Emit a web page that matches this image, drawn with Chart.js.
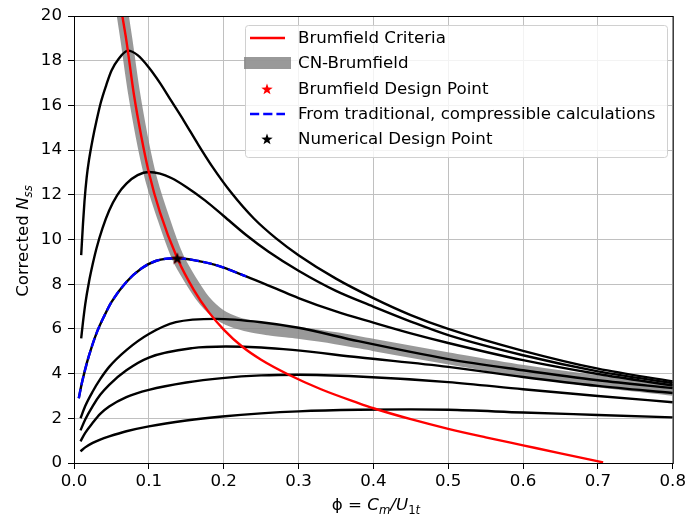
<!DOCTYPE html>
<html>
<head>
<meta charset="utf-8">
<script src="https://cdn.jsdelivr.net/npm/chart.js@4.4.0/dist/chart.umd.min.js"></script>
<style>
body { margin: 0; background: #fff; }
</style>
</head>
<body>
<canvas id="grafico" width="689" height="523"></canvas>
<script>
// curvas Nss x phi
const phiC1 = [0.0096, 0.012, 0.014, 0.017, 0.02, 0.025, 0.03, 0.036, 0.043, 0.05, 0.06, 0.072, 0.085, 0.1, 0.115, 0.13, 0.147, 0.165, 0.185, 0.21, 0.24, 0.27, 0.3, 0.35, 0.4, 0.45, 0.5, 0.6, 0.7, 0.8];
const nssC1 = [9.3, 10.7, 11.7, 12.8, 13.55, 14.5, 15.3, 16.15, 16.9, 17.55, 18.1, 18.45, 18.25, 17.7, 17.0, 16.2, 15.3, 14.3, 13.25, 12.1, 10.95, 10.05, 9.3, 8.25, 7.38, 6.62, 6.0, 5.02, 4.22, 3.65];

const phiC2 = [0.0096, 0.012, 0.015, 0.02, 0.025, 0.03, 0.038, 0.047, 0.058, 0.07, 0.085, 0.1, 0.115, 0.13, 0.15, 0.175, 0.2, 0.23, 0.26, 0.3, 0.35, 0.4, 0.45, 0.5, 0.6, 0.7, 0.8];
const nssC2 = [5.58, 6.3, 7.1, 8.1, 8.9, 9.6, 10.5, 11.3, 12.0, 12.5, 12.88, 13.02, 12.95, 12.75, 12.35, 11.75, 11.05, 10.2, 9.45, 8.6, 7.7, 7.0, 6.33, 5.72, 4.82, 4.1, 3.57];

const phiC3 = [0.0064, 0.01, 0.015, 0.02, 0.03, 0.04, 0.05, 0.07, 0.09, 0.11, 0.138, 0.16, 0.19, 0.23, 0.27, 0.3, 0.35, 0.4, 0.45, 0.5, 0.6, 0.7, 0.8];
const nssC3 = [2.9, 3.5, 4.2, 4.8, 5.8, 6.55, 7.2, 8.1, 8.7, 9.05, 9.16, 9.08, 8.85, 8.35, 7.8, 7.38, 6.78, 6.28, 5.8, 5.37, 4.6, 3.98, 3.47];

const phiC4 = [0.0087, 0.015, 0.025, 0.035, 0.047, 0.07, 0.1, 0.136, 0.19, 0.25, 0.3, 0.38, 0.5, 0.6, 0.7, 0.8];
const nssC4 = [2.0, 2.55, 3.2, 3.75, 4.3, 5.05, 5.77, 6.3, 6.45, 6.3, 6.05, 5.45, 4.65, 4.15, 3.7, 3.35];

const phiC5 = [0.0087, 0.015, 0.025, 0.035, 0.047, 0.07, 0.1, 0.158, 0.203, 0.25, 0.292, 0.38, 0.5, 0.6, 0.7, 0.8];
const nssC5 = [1.46, 1.95, 2.55, 3.05, 3.5, 4.15, 4.72, 5.14, 5.21, 5.17, 5.06, 4.73, 4.3, 3.85, 3.45, 3.13];

const phiC6 = [0.0087, 0.015, 0.025, 0.035, 0.047, 0.07, 0.1, 0.15, 0.198, 0.25, 0.3, 0.38, 0.5, 0.6, 0.7, 0.8];
const nssC6 = [0.97, 1.35, 1.8, 2.2, 2.53, 2.95, 3.27, 3.6, 3.8, 3.92, 3.95, 3.87, 3.62, 3.3, 3.0, 2.72];

const phiC7 = [0.0087, 0.015, 0.025, 0.035, 0.047, 0.07, 0.1, 0.15, 0.198, 0.25, 0.3, 0.38, 0.45, 0.5, 0.6, 0.7, 0.8];
const nssC7 = [0.52, 0.7, 0.9, 1.05, 1.19, 1.42, 1.64, 1.9, 2.08, 2.22, 2.31, 2.38, 2.4, 2.38, 2.26, 2.15, 2.04];

// criterio de Brumfield
const phiBrum = [0.062, 0.07, 0.08, 0.09, 0.1, 0.115, 0.138, 0.16, 0.18, 0.2, 0.225, 0.25, 0.287, 0.33, 0.38, 0.4, 0.45, 0.5, 0.55, 0.6, 0.65, 0.707];
const nssBrum = [20.5, 18.9, 16.5, 14.6, 13.0, 11.2, 9.16, 7.75, 6.75, 5.97, 5.2, 4.62, 3.95, 3.3, 2.68, 2.45, 1.96, 1.53, 1.15, 0.79, 0.43, 0.03];

// CN-Brumfield (faixa cinza)
const phiCN = [0.063, 0.07, 0.08, 0.1, 0.12, 0.138, 0.15, 0.16, 0.17, 0.18, 0.19, 0.2, 0.215, 0.235, 0.26, 0.3, 0.35, 0.4, 0.5, 0.6, 0.7, 0.8];
const nssCN = [20.5, 18.95, 16.6, 13.1, 10.9, 9.25, 8.5, 7.95, 7.45, 7.05, 6.75, 6.52, 6.3, 6.12, 5.98, 5.82, 5.58, 5.28, 4.68, 4.12, 3.66, 3.28];

// trecho calculado (azul tracejado) = primeiros pontos da curva 3
const nAzul = 14;

// pontos de projeto
const phiProjBrum = [0.138];
const nssProjBrum = [9.16];
const phiProjNum = [0.138];
const nssProjNum = [9.16];

const xTicks = [0, 0.1, 0.2, 0.3, 0.4, 0.5, 0.6, 0.7, 0.8];
const legendas = ['Brumfield Criteria', 'CN-Brumfield', 'Brumfield Design Point', 'From traditional, compressible calculations', 'Numerical Design Point'];

const FONTE = '"DejaVu Sans", sans-serif';
const TAM = 16.67;
const TAM_SUB = 11.7;
const LARG = 2.4;
const TRACO = [9.2, 4];
const CINZA = 'rgba(128,128,128,0.8)';

function pontos(xs, ys) {
    return xs.map((x, i) => ({ x: x, y: ys[i] }));
}

function desenhaEstrela(g, cx, cy, R, cor) {
    g.fillStyle = cor;
    g.beginPath();
    for (let i = 0; i < 10; i++) {
        const r = i % 2 === 0 ? R : R * 0.4;
        const a = -Math.PI / 2 + i * Math.PI / 5;
        const px = cx + r * Math.cos(a), py = cy + r * Math.sin(a);
        if (i === 0) g.moveTo(px, py); else g.lineTo(px, py);
    }
    g.closePath();
    g.fill();
}

function estrela(cor) {
    const c = document.createElement('canvas');
    c.width = 14; c.height = 14;
    desenhaEstrela(c.getContext('2d'), 7, 7.6, 6.3, cor);
    return c;
}

function linhaPreta(xs, ys) {
    return {
        data: pontos(xs, ys),
        borderColor: '#000',
        borderWidth: LARG,
        pointRadius: 0,
        cubicInterpolationMode: 'monotone',
        clip: 0
    };
}

function escrevePartes(ctx, partes, cx, base) {
    let total = 0;
    partes.forEach(p => { ctx.font = p.f; p.w = ctx.measureText(p.t).width; total += p.w; });
    let x = cx - total / 2;
    ctx.textAlign = 'left';
    partes.forEach(p => {
        ctx.font = p.f;
        ctx.fillText(p.t, x, base + p.dy);
        x += p.w;
    });
}

const legendaPlugin = {
    id: 'legenda',
    afterDatasetsDraw(chart) {
        const ctx = chart.ctx;
        const a = chart.chartArea;
        ctx.save();
        // moldura dos eixos
        ctx.strokeStyle = '#000';
        ctx.lineWidth = 1;
        ctx.strokeRect(a.left + 0.5, a.top + 0.5, a.right - a.left, a.bottom - a.top);

        // caixa da legenda
        ctx.fillStyle = 'rgba(255,255,255,0.8)';
        ctx.strokeStyle = '#d0d0d0';
        ctx.beginPath();
        ctx.roundRect(245.5, 25.5, 422, 132, 3);
        ctx.fill();
        ctx.stroke();

        const ys = [38, 63, 89, 114, 139];
        const x0 = 250, x1 = 285, xm = 267;
        ctx.lineCap = 'butt';
        ctx.strokeStyle = 'red'; ctx.lineWidth = LARG;
        ctx.beginPath(); ctx.moveTo(x0, ys[0]); ctx.lineTo(x1, ys[0]); ctx.stroke();
        ctx.strokeStyle = CINZA; ctx.lineWidth = 12; ctx.lineCap = 'square';
        ctx.beginPath(); ctx.moveTo(x0, ys[1]); ctx.lineTo(x1, ys[1]); ctx.stroke();
        ctx.lineCap = 'butt';
        desenhaEstrela(ctx, xm, ys[2] + 0.5, 6, 'red');
        ctx.strokeStyle = 'blue'; ctx.lineWidth = LARG; ctx.setLineDash(TRACO);
        ctx.beginPath(); ctx.moveTo(x0, ys[3]); ctx.lineTo(x1, ys[3]); ctx.stroke();
        ctx.setLineDash([]);
        desenhaEstrela(ctx, xm, ys[4] + 0.5, 6, 'black');

        ctx.fillStyle = '#000';
        ctx.font = TAM + 'px ' + FONTE;
        ctx.textBaseline = 'middle';
        ctx.textAlign = 'left';
        legendas.forEach((t, i) => ctx.fillText(t, 298, ys[i] + 1));
        ctx.restore();
    },
    afterDraw(chart) {
        const ctx = chart.ctx;
        ctx.save();
        ctx.fillStyle = '#000';
        ctx.textBaseline = 'alphabetic';
        // titulo eixo x: phi = C_m / U_1t
        const partes = [
            { t: '\u03d5 = ', f: TAM + 'px ' + FONTE, dy: 0 },
            { t: 'C', f: 'italic ' + TAM + 'px ' + FONTE, dy: 0 },
            { t: 'm', f: 'italic ' + TAM_SUB + 'px ' + FONTE, dy: 3.5 },
            { t: '/', f: 'italic ' + TAM + 'px ' + FONTE, dy: 0 },
            { t: 'U', f: 'italic ' + TAM + 'px ' + FONTE, dy: 0 },
            { t: '1', f: TAM_SUB + 'px ' + FONTE, dy: 3.5 },
            { t: 't', f: 'italic ' + TAM_SUB + 'px ' + FONTE, dy: 3.5 }
        ];
        escrevePartes(ctx, partes, 376, 510);

        // titulo eixo y
        ctx.translate(28, 241);
        ctx.rotate(-Math.PI / 2);
        const partesY = [
            { t: 'Corrected ', f: TAM + 'px ' + FONTE, dy: 0 },
            { t: 'N', f: 'italic ' + TAM + 'px ' + FONTE, dy: 0 },
            { t: 'ss', f: 'italic ' + TAM_SUB + 'px ' + FONTE, dy: 3.5 }
        ];
        escrevePartes(ctx, partesY, 0, 0);
        ctx.restore();
    }
};

const ctx = document.getElementById('grafico').getContext('2d');
const grafico = new Chart(ctx, {
    type: 'line',
    data: {
        datasets: [
            {
                label: legendas[4],
                data: pontos(phiProjNum, nssProjNum),
                showLine: false,
                pointStyle: estrela('black'),
                pointRadius: 7,
                clip: false
            },
            {
                label: legendas[2],
                data: pontos(phiProjBrum, nssProjBrum),
                showLine: false,
                pointStyle: estrela('red'),
                pointRadius: 7,
                clip: false
            },
            {
                label: legendas[3],
                data: pontos(phiC3.slice(0, nAzul), nssC3.slice(0, nAzul)),
                borderColor: 'blue',
                borderWidth: LARG,
                borderDash: TRACO,
                pointRadius: 0,
                cubicInterpolationMode: 'monotone',
                clip: 0
            },
            {
                label: legendas[0],
                data: pontos(phiBrum, nssBrum),
                borderColor: 'red',
                borderWidth: LARG,
                pointRadius: 0,
                cubicInterpolationMode: 'monotone',
                clip: 0
            },
            linhaPreta(phiC1, nssC1),
            linhaPreta(phiC2, nssC2),
            linhaPreta(phiC3, nssC3),
            linhaPreta(phiC4, nssC4),
            linhaPreta(phiC5, nssC5),
            linhaPreta(phiC6, nssC6),
            linhaPreta(phiC7, nssC7),
            {
                label: legendas[1],
                data: pontos(phiCN, nssCN),
                borderColor: CINZA,
                borderWidth: 12,
                pointRadius: 0,
                cubicInterpolationMode: 'monotone',
                clip: 0
            }
        ]
    },
    options: {
        responsive: false,
        animation: false,
        events: [],
        layout: { padding: { top: 16, right: 15, left: 0, bottom: 0 } },
        plugins: {
            legend: { display: false },
            tooltip: { enabled: false }
        },
        scales: {
            x: {
                type: 'linear',
                min: 0,
                max: 0.8,
                afterFit: (s) => { s.height = 60; },
                afterBuildTicks: (s) => { s.ticks = xTicks.map(v => ({ value: v })); },
                grid: { color: '#c0c0c0', tickColor: '#000', tickLength: 6 },
                border: { display: false },
                ticks: {
                    color: '#000',
                    padding: 3,
                    maxRotation: 0,
                    font: { family: FONTE, size: TAM },
                    callback: (v) => Number(v).toFixed(1)
                }
            },
            y: {
                type: 'linear',
                min: 0,
                max: 20,
                afterFit: (s) => { s.width = 74; },
                grid: { color: '#c0c0c0', tickColor: '#000', tickLength: 6 },
                border: { display: false },
                ticks: {
                    stepSize: 2,
                    color: '#000',
                    padding: 6,
                    font: { family: FONTE, size: TAM }
                }
            }
        }
    },
    plugins: [legendaPlugin]
});
</script>
</body>
</html>
